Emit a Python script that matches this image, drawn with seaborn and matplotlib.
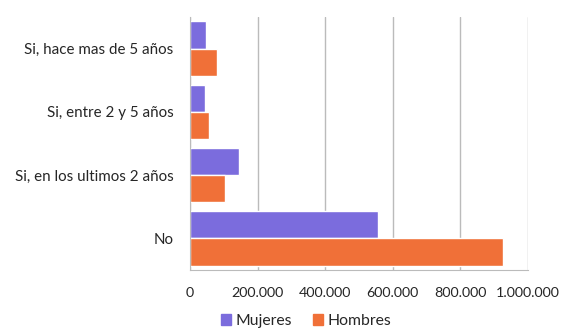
import pandas as pd
import numpy as np
import matplotlib
matplotlib.use("Agg")
import matplotlib.pyplot as plt
import seaborn as sns
from matplotlib.ticker import FuncFormatter

categorias = ["Si, hace mas de 5 años", "Si, entre 2 y 5 años",
              "Si, en los ultimos 2 años", "No"]
mujeres = [48000, 45000, 146000, 557000]
hombres = [79000, 56000, 103000, 928000]
series = ["Mujeres", "Hombres"]
colores = ["#7B6CDD", "#F07038"]

df = pd.DataFrame({
    "categoria": categorias * 2,
    "valor": mujeres + hombres,
    "sexo": [series[0]] * len(categorias) + [series[1]] * len(categorias),
})

sns.set_style("white")
plt.rcParams["font.family"] = ["Lato", "DejaVu Sans"]

fig = plt.figure(figsize=(5.63, 3.29), dpi=100)
ax = fig.add_axes([190 / 563, 1 - 270 / 329, (527.7 - 190) / 563, (270 - 17) / 329])

sns.barplot(data=df, x="valor", y="categoria", hue="sexo", order=categorias,
            hue_order=series, palette=colores, orient="h", width=0.86,
            saturation=1, ax=ax, legend=False)

ax.set_xlim(0, 1000000)
ax.set_ylim(3.5, -0.5)
ax.set_xticks(np.arange(0, 1000001, 200000))
ax.xaxis.set_major_formatter(FuncFormatter(lambda v, p: f"{int(v):,}".replace(",", ".")))
ax.grid(axis="x", color="#BBBBBB", linewidth=1)
ax.set_axisbelow(True)
ax.set_xlabel("")
ax.set_ylabel("")
for s in ["top", "right"]:
    ax.spines[s].set_visible(False)
ax.spines["left"].set_color("#BBBBBB")
ax.spines["bottom"].set_color("#BBBBBB")
ax.tick_params(axis="x", length=6, color="#BBBBBB", labelsize=10.3, pad=6)
ax.tick_params(axis="y", length=0, labelsize=10.9, pad=12)

handles = [plt.Rectangle((0, 0), 1, 1, color=c) for c in colores]
fig.legend(handles, series, loc="center", bbox_to_anchor=(306 / 563, 1 - 321 / 329),
           ncol=2, frameon=False, fontsize=11.3, handlelength=0.65, handleheight=0.65,
           handletextpad=0.3, columnspacing=1.3)

fig.savefig("out.png", dpi=100)
